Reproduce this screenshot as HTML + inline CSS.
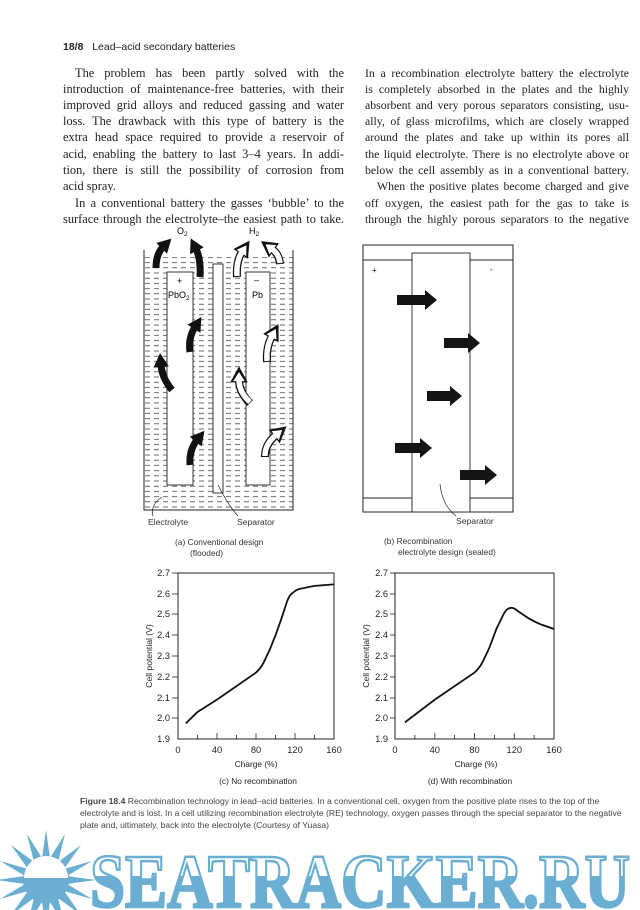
<!DOCTYPE html>
<html><head><meta charset="utf-8">
<style>
html,body{margin:0;padding:0;background:#fff;}
body{width:640px;height:910px;position:relative;overflow:hidden;font-family:"Liberation Serif",serif;color:#222;}
.l{position:absolute;height:16px;line-height:16px;font-size:12.4px;white-space:nowrap;}
.j{text-align:justify;text-align-last:justify;white-space:normal;overflow:hidden;}
.c1{left:63px;width:281px;}
.c2{left:365px;width:264px;font-size:11.8px;}
.ind{text-indent:12px;}
.cap{position:absolute;left:80px;width:549px;font-family:"Liberation Sans",sans-serif;font-size:8.6px;line-height:12px;color:#444;}
svg{position:absolute;left:0;top:0;}
</style></head><body>
<div style="position:absolute;left:63px;top:41px;font-family:'Liberation Sans',sans-serif;font-size:10.5px;color:#222;"><b>18/8</b>&nbsp;&nbsp; Lead–acid secondary batteries</div>

<div class="l c1 j ind" style="top:65px">The problem has been partly solved with the</div>
<div class="l c1 j" style="top:81px">introduction of maintenance-free batteries, with their</div>
<div class="l c1 j" style="top:97px">improved grid alloys and reduced gassing and water</div>
<div class="l c1 j" style="top:113px">loss. The drawback with this type of battery is the</div>
<div class="l c1 j" style="top:129px">extra head space required to provide a reservoir of</div>
<div class="l c1 j" style="top:146px">acid, enabling the battery to last 3–4 years. In addi-</div>
<div class="l c1 j" style="top:162px">tion, there is still the possibility of corrosion from</div>
<div class="l c1" style="top:178px">acid spray.</div>
<div class="l c1 j ind" style="top:195px">In a conventional battery the gasses ‘bubble’ to the</div>
<div class="l c1 j" style="top:211px">surface through the electrolyte–the easiest path to take.</div>

<div class="l c2 j" style="top:65px">In a recombination electrolyte battery the electrolyte</div>
<div class="l c2 j" style="top:81px">is completely absorbed in the plates and the highly</div>
<div class="l c2 j" style="top:97px">absorbent and very porous separators consisting, usu-</div>
<div class="l c2 j" style="top:113px">ally, of glass microfilms, which are closely wrapped</div>
<div class="l c2 j" style="top:129px">around the plates and take up within its pores all</div>
<div class="l c2 j" style="top:146px">the liquid electrolyte. There is no electrolyte above or</div>
<div class="l c2 j" style="top:162px">below the cell assembly as in a conventional battery.</div>
<div class="l c2 j ind" style="top:178px">When the positive plates become charged and give</div>
<div class="l c2 j" style="top:195px">off oxygen, the easiest path for the gas to take is</div>
<div class="l c2 j" style="top:211px">through the highly porous separators to the negative</div>

<svg width="640" height="910" viewBox="0 0 640 910" font-family="Liberation Sans, sans-serif">
<defs>
<pattern id="dash" x="0" y="0" width="9" height="5.2" patternUnits="userSpaceOnUse">
<line x1="1" y1="2.6" x2="6" y2="2.6" stroke="#444" stroke-width="0.8"/>
</pattern>
<marker id="hb" markerWidth="2" markerHeight="2.2" refX="0.3" refY="1.1" orient="auto" markerUnits="strokeWidth"><path d="M0,0 L2,1.1 L0,2.2 z" fill="#111"/></marker>
<marker id="hw" markerWidth="2" markerHeight="2.4" refX="0.4" refY="1.2" orient="auto" markerUnits="strokeWidth"><path d="M0.2,0.15 L1.85,1.2 L0.2,2.25 z" fill="#fff"/></marker>
<linearGradient id="wm" x1="0" y1="851" x2="0" y2="909" gradientUnits="userSpaceOnUse">
<stop offset="0.43" stop-color="#fff"/><stop offset="0.43" stop-color="#6aaed2"/></linearGradient>
</defs>

<!-- Diagram (a) -->
<rect x="144" y="257" width="149" height="253" fill="url(#dash)"/>
<path d="M144,250 V510 H293 V250" fill="none" stroke="#222" stroke-width="1"/>
<rect x="167" y="272" width="26" height="213" fill="#fff" stroke="#222" stroke-width="0.9"/>
<rect x="213" y="264" width="10" height="229" fill="#fff" stroke="#222" stroke-width="0.9"/>
<rect x="246" y="272" width="24" height="213" fill="#fff" stroke="#222" stroke-width="0.9"/>
<text x="177" y="234" font-size="9">O<tspan font-size="6.5" dy="2">2</tspan></text>
<text x="249" y="234" font-size="9">H<tspan font-size="6.5" dy="2">2</tspan></text>
<text x="177" y="284" font-size="9">+</text>
<text x="168" y="298" font-size="9">PbO<tspan font-size="6.5" dy="2">2</tspan></text>
<text x="254" y="283" font-size="9">–</text>
<text x="252" y="298" font-size="9">Pb</text>
<!-- black arrows -->
<g fill="none" stroke="#111" stroke-width="7" marker-end="url(#hb)">
<path d="M156,268 Q156,254 163,247"/>
<path d="M200,277 Q201,259 196,249"/>
<path d="M190,352 Q188,338 195,327"/>
<path d="M172,390 Q162,378 161,365"/>
<path d="M190,465 Q189,450 197,440"/>
</g>
<!-- white arrows -->
<g fill="none" stroke="#111" stroke-width="8" marker-end="url(#hb)">
<path d="M237,277 Q236,261 242,252"/>
<path d="M280,264 Q279,254 272,249"/>
<path d="M267,362 Q266,347 272,336"/>
<path d="M250,403 Q239,392 239,380"/>
<path d="M265,457 Q265,444 276,435"/>
</g>
<g fill="none" stroke="#fff" stroke-width="5.5" marker-end="url(#hw)">
<path d="M237,276 Q236,261 242,252"/>
<path d="M280,263 Q279,254 272,249"/>
<path d="M267,361 Q266,347 272,336"/>
<path d="M250,402 Q239,392 239,380"/>
<path d="M265,456 Q265,444 276,435"/>
</g>
<path d="M162,497 Q150,505 153,516" fill="none" stroke="#222" stroke-width="0.7"/>
<path d="M218,485 Q228,505 238,516" fill="none" stroke="#222" stroke-width="0.7"/>
<text x="148" y="525" font-size="8.6" fill="#333">Electrolyte</text>
<text x="237" y="525" font-size="8.6" fill="#333">Separator</text>
<text x="175" y="545" font-size="8.4" fill="#333">(a)  Conventional design</text>
<text x="190" y="556" font-size="8.4" fill="#333">(flooded)</text>

<!-- Diagram (b) -->
<rect x="363" y="245" width="150" height="267" fill="#fff" stroke="#222" stroke-width="1"/>
<line x1="363" y1="260" x2="513" y2="260" stroke="#222" stroke-width="0.9"/>
<line x1="363" y1="498" x2="513" y2="498" stroke="#222" stroke-width="0.9"/>
<rect x="412" y="253" width="58" height="259" fill="#fff" stroke="#222" stroke-width="0.9"/>
<text x="372" y="273" font-size="8">+</text>
<text x="490" y="272" font-size="8">-</text>
<g fill="#151515">
<path d="M397,295 h28 v-5 l12,10 l-12,10 v-5 h-28 z"/>
<path d="M444,338 h24 v-5 l12,10 l-12,10 v-5 h-24 z"/>
<path d="M427,391 h23 v-5 l12,10 l-12,10 v-5 h-23 z"/>
<path d="M395,443 h25 v-5 l12,10 l-12,10 v-5 h-25 z"/>
<path d="M460,470 h25 v-5 l12,10 l-12,10 v-5 h-25 z"/>
</g>
<path d="M440,484 Q442,505 456,516" fill="none" stroke="#222" stroke-width="0.7"/>
<text x="456" y="524" font-size="8.6" fill="#333">Separator</text>
<text x="384" y="544" font-size="8.4" fill="#333">(b)  Recombination</text>
<text x="398" y="555" font-size="8.4" fill="#333">electrolyte design (sealed)</text>

<!-- Chart (c) -->
<g font-size="9.3" fill="#222">
<rect x="178" y="573" width="156" height="166" fill="none" stroke="#222" stroke-width="1"/>
<g text-anchor="end">
<text x="170" y="576">2.7</text><text x="170" y="597">2.6</text><text x="170" y="617">2.5</text><text x="170" y="638">2.4</text><text x="170" y="659">2.3</text><text x="170" y="680">2.2</text><text x="170" y="701">2.1</text><text x="170" y="721">2.0</text><text x="170" y="742">1.9</text>
</g>
<g stroke="#222" stroke-width="0.8">
<line x1="172" y1="573" x2="178" y2="573"/><line x1="172" y1="594" x2="178" y2="594"/><line x1="172" y1="614" x2="178" y2="614"/><line x1="172" y1="635" x2="178" y2="635"/><line x1="172" y1="656" x2="178" y2="656"/><line x1="172" y1="677" x2="178" y2="677"/><line x1="172" y1="698" x2="178" y2="698"/><line x1="172" y1="718" x2="178" y2="718"/>
<line x1="197.5" y1="739" x2="197.5" y2="735"/><line x1="217" y1="739" x2="217" y2="733"/><line x1="236.5" y1="739" x2="236.5" y2="735"/><line x1="256" y1="739" x2="256" y2="733"/><line x1="275.5" y1="739" x2="275.5" y2="735"/><line x1="295" y1="739" x2="295" y2="733"/><line x1="314.5" y1="739" x2="314.5" y2="735"/>
</g>
<g text-anchor="middle">
<text x="178" y="753">0</text><text x="217" y="753">40</text><text x="256" y="753">80</text><text x="295" y="753">120</text><text x="334" y="753">160</text>
<text x="256" y="767" font-size="8.4">Charge (%)</text>
<text x="258" y="784" font-size="8.4">(c)  No recombination</text>
<text transform="translate(152,656) rotate(-90)" font-size="8.6">Cell potential (V)</text>
</g>
<path d="M185.8,723.4 L197.5,712 L217,699.6 L236.5,686.1 L256,672.6 Q261,668 263.8,662.2 L269.7,649.8 L275.5,635.3 L281.4,618.7 L287.2,601 Q290,594 293.1,592.7 Q296,589.5 300.9,588.6 L314.5,585.9 L334,584.4" fill="none" stroke="#111" stroke-width="1.8"/>
</g>

<!-- Chart (d) -->
<g font-size="9.3" fill="#222">
<rect x="395" y="573" width="159" height="166" fill="none" stroke="#222" stroke-width="1"/>
<g text-anchor="end">
<text x="388" y="576">2.7</text><text x="388" y="597">2.6</text><text x="388" y="617">2.5</text><text x="388" y="638">2.4</text><text x="388" y="659">2.3</text><text x="388" y="680">2.2</text><text x="388" y="701">2.1</text><text x="388" y="721">2.0</text><text x="388" y="742">1.9</text>
</g>
<g stroke="#222" stroke-width="0.8">
<line x1="390" y1="573" x2="395" y2="573"/><line x1="390" y1="594" x2="395" y2="594"/><line x1="390" y1="614" x2="395" y2="614"/><line x1="390" y1="635" x2="395" y2="635"/><line x1="390" y1="656" x2="395" y2="656"/><line x1="390" y1="677" x2="395" y2="677"/><line x1="390" y1="698" x2="395" y2="698"/><line x1="390" y1="718" x2="395" y2="718"/>
<line x1="414.9" y1="739" x2="414.9" y2="735"/><line x1="434.8" y1="739" x2="434.8" y2="733"/><line x1="454.6" y1="739" x2="454.6" y2="735"/><line x1="474.5" y1="739" x2="474.5" y2="733"/><line x1="494.4" y1="739" x2="494.4" y2="735"/><line x1="514.3" y1="739" x2="514.3" y2="733"/><line x1="534.1" y1="739" x2="534.1" y2="735"/>
</g>
<g text-anchor="middle">
<text x="395" y="753">0</text><text x="434.8" y="753">40</text><text x="474.5" y="753">80</text><text x="514.3" y="753">120</text><text x="554" y="753">160</text>
<text x="476" y="767" font-size="8.4">Charge (%)</text>
<text x="470" y="784" font-size="8.4">(d)  With recombination</text>
<text transform="translate(369,656) rotate(-90)" font-size="8.6">Cell potential (V)</text>
</g>
<path d="M404.9,722.4 L434.8,699.6 L474.5,672.6 Q479.5,668 482.5,662.2 L489.4,647.7 L496.4,629 L502.4,616.6 Q505,611 507.3,609.3 Q510,607.5 512.3,607.9 Q515,608.5 518.3,611.4 L529.2,618.7 Q536,622.5 542.1,624.9 L554,629" fill="none" stroke="#111" stroke-width="1.8"/>
</g>

<!-- Watermark -->
<g fill="#6aaed2">
<g transform="translate(46,880)">
<path d="M0,-50 L4,-22 L19,-46 L12,-18 L35,-35 L18,-11 L46,-19 L21,-4 L50,0 L21,4 L46,19 L18,11 L35,35 L12,18 L19,46 L4,22 L0,50 L-4,22 L-19,46 L-12,18 L-35,35 L-18,11 L-46,19 L-21,4 L-50,0 L-21,-4 L-46,-19 L-18,-11 L-35,-35 L-12,-18 L-19,-46 L-4,-22 z"/>
<circle r="23" fill="#6aaed2"/>
<path d="M-22,-2 A22,22 0 0 1 22,-2 z" fill="#fff"/>
</g>
</g>
<text x="90" y="907" font-family="Liberation Serif, serif" font-weight="bold" font-size="76" textLength="540" lengthAdjust="spacingAndGlyphs" fill="url(#wm)" stroke="#6aaed2" stroke-width="2.5">SEATRACKER.RU</text>
</svg>

<div class="cap" style="top:795px"><b>Figure 18.4</b> Recombination technology in lead–acid batteries. In a conventional cell, oxygen from the positive plate rises to the top of the electrolyte and is lost. In a cell utilizing recombination electrolyte (RE) technology, oxygen passes through the special separator to the negative plate and, ultimately, back into the electrolyte (Courtesy of Yuasa)</div>
</body></html>
